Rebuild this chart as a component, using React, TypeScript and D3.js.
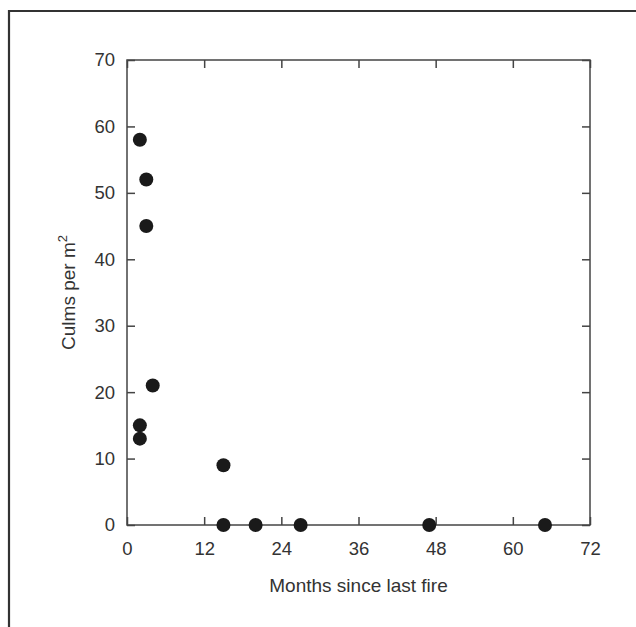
import React, { useEffect, useRef } from 'react';
import * as d3 from 'd3';

// Months since last fire vs culms per m2
const months = [2, 3, 3, 4, 2, 2, 15, 15, 20, 27, 47, 65];
const culms = [58, 52, 45, 21, 15, 13, 9, 0, 0, 0, 0, 0];
const xTicks = [0, 12, 24, 36, 48, 60, 72];
const yTicks = [0, 10, 20, 30, 40, 50, 60, 70];

const App = () => {
  const svgRef = useRef(null);

  useEffect(() => {
    const width = 636;
    const height = 627;
    const margin = { top: 60, right: 46, bottom: 102, left: 127 };
    const innerW = width - margin.left - margin.right;
    const innerH = height - margin.top - margin.bottom;

    const svg = d3.select(svgRef.current);
    svg.selectAll('*').remove();
    svg.attr('width', width).attr('height', height);

    svg.append('rect').attr('width', width).attr('height', height).attr('fill', '#fff');

    // outer frame, runs off the right and bottom edges
    svg.append('path')
      .attr('d', `M9,${height + 5} L9,11 L${width + 5},11`)
      .attr('fill', 'none')
      .attr('stroke', '#333')
      .attr('stroke-width', 2.2);

    const g = svg.append('g').attr('transform', `translate(${margin.left},${margin.top})`);

    const x = d3.scaleLinear().domain([0, 72]).range([0, innerW]);
    const y = d3.scaleLinear().domain([0, 70]).range([innerH, 0]);

    const font = 'Liberation Sans, Arial, sans-serif';
    const axisColor = '#444';

    g.append('rect')
      .attr('width', innerW)
      .attr('height', innerH)
      .attr('fill', 'none')
      .attr('stroke', axisColor)
      .attr('stroke-width', 1.5);

    // inward ticks on all four sides
    const tickLen = 8;
    g.append('g')
      .attr('transform', `translate(0,${innerH})`)
      .call(d3.axisBottom(x).tickValues(xTicks).tickSizeInner(-tickLen).tickSizeOuter(0).tickPadding(17))
      .call(a => a.select('.domain').remove());
    g.append('g')
      .call(d3.axisTop(x).tickValues(xTicks).tickSizeInner(-tickLen).tickSizeOuter(0).tickFormat(() => ''))
      .call(a => a.select('.domain').remove());
    g.append('g')
      .call(d3.axisLeft(y).tickValues(yTicks).tickSizeInner(-tickLen).tickSizeOuter(0).tickPadding(12))
      .call(a => a.select('.domain').remove());
    g.append('g')
      .attr('transform', `translate(${innerW},0)`)
      .call(d3.axisRight(y).tickValues(yTicks).tickSizeInner(-tickLen).tickSizeOuter(0).tickFormat(() => ''))
      .call(a => a.select('.domain').remove());

    g.selectAll('.tick line').attr('stroke', axisColor).attr('stroke-width', 1.5);
    g.selectAll('.tick text')
      .attr('font-family', font)
      .attr('font-size', 18.5)
      .attr('fill', '#333');

    // points
    g.selectAll('circle.pt')
      .data(months.map((m, i) => ({ m, c: culms[i] })))
      .enter()
      .append('circle')
      .attr('class', 'pt')
      .attr('cx', d => x(d.m))
      .attr('cy', d => y(d.c))
      .attr('r', 7)
      .attr('fill', '#1a1a1a');

    // axis labels
    svg.append('text')
      .attr('x', margin.left + innerW / 2)
      .attr('y', 592)
      .attr('text-anchor', 'middle')
      .attr('font-family', font)
      .attr('font-size', 19)
      .attr('fill', '#333')
      .text('Months since last fire');

    const yl = svg.append('text')
      .attr('transform', `translate(75,${margin.top + innerH / 2}) rotate(-90)`)
      .attr('text-anchor', 'middle')
      .attr('font-family', font)
      .attr('font-size', 19)
      .attr('fill', '#333');
    yl.append('tspan').text('Culms per m');
    yl.append('tspan').attr('font-size', 13).attr('dy', -8).text('2');
  }, []);

  return <svg ref={svgRef} style={{ position: 'absolute', left: 0, top: 0 }}></svg>;
};

export default App;
